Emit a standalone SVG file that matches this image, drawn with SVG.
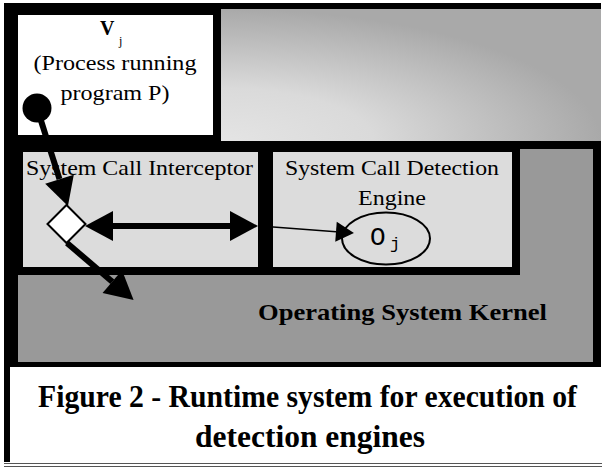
<svg xmlns="http://www.w3.org/2000/svg" width="602" height="469" viewBox="0 0 602 469">
<style>
.serif{font-family:"Liberation Serif","Times New Roman",serif;fill:#000}
.b{font-weight:bold}
.mono{font-family:"Liberation Mono","Courier New",monospace;fill:#000}
.light{fill:#dcdcdc}
.conn{stroke:#000;fill:none}
</style>
<defs>
<radialGradient id="sky" cx="0" cy="1" r="1" fx="0" fy="1">
<stop offset="0" stop-color="#e4e4e4"/>
<stop offset="0.4" stop-color="#dadada"/>
<stop offset="1" stop-color="#a9a9a9"/>
</radialGradient>
<marker id="big" markerUnits="userSpaceOnUse" markerWidth="30" markerHeight="32" refX="0" refY="15" orient="auto-start-reverse" overflow="visible">
<path d="M0,0 L28,15 L0,30 z" fill="#000"/>
</marker>
<marker id="small" markerUnits="userSpaceOnUse" markerWidth="20" markerHeight="22" refX="0" refY="10" orient="auto" overflow="visible">
<path d="M0,0 L18,10 L0,20 z" fill="#000"/>
</marker>
<marker id="dot" markerUnits="userSpaceOnUse" markerWidth="32" markerHeight="32" refX="0" refY="0" overflow="visible">
<circle cx="0" cy="0" r="14.5" fill="#000"/>
</marker>
</defs>
<rect x="0" y="0" width="602" height="469" fill="#fff"/>
<!-- frame -->
<rect x="4" y="3" width="597" height="364" fill="#000"/>
<g id="caption">
<rect x="4" y="367" width="6" height="95" fill="#000"/>
<rect x="10" y="367" width="592" height="95" fill="#fff"/>
<line x1="4" y1="463.5" x2="602" y2="463.5" stroke="#555" stroke-width="1"/>
<line x1="4" y1="466.5" x2="602" y2="466.5" stroke="#555" stroke-width="1"/>
<text class="serif b" x="38" y="407" font-size="31" textLength="539" lengthAdjust="spacingAndGlyphs">Figure 2 - Runtime system for execution of</text>
<text class="serif b" x="195" y="447" font-size="31" textLength="230" lengthAdjust="spacingAndGlyphs">detection engines</text>
</g>
<g id="background">
<rect x="221" y="9" width="380" height="132" fill="url(#sky)"/>
</g>
<g id="kernel">
<rect x="18" y="149" width="575" height="213" fill="#999"/>
<rect x="4" y="141" width="516" height="134" fill="#000"/>
<text class="serif b" x="258" y="320" font-size="24" textLength="289" lengthAdjust="spacingAndGlyphs">Operating System Kernel</text>
</g>
<g id="process">
<rect x="18" y="15" width="195" height="120" fill="#fff"/>
<text class="serif b" x="100" y="35" font-size="20">V</text>
<text class="serif" x="119" y="45" font-size="12">j</text>
<text class="serif" x="115" y="70" font-size="22" text-anchor="middle" textLength="163" lengthAdjust="spacingAndGlyphs">(Process running</text>
<text class="serif" x="115" y="100" font-size="22" text-anchor="middle" textLength="109" lengthAdjust="spacingAndGlyphs">program P)</text>
</g>
<g id="interceptor">
<rect class="light" x="23" y="152" width="235" height="115"/>
<text class="serif" x="26" y="175" font-size="21" textLength="227" lengthAdjust="spacingAndGlyphs">System Call Interceptor</text>
</g>
<g id="engine">
<rect class="light" x="273" y="152" width="239" height="115"/>
<text class="serif" x="285" y="175" font-size="21" textLength="214" lengthAdjust="spacingAndGlyphs">System Call Detection</text>
<text class="serif" x="358" y="205" font-size="21" textLength="68" lengthAdjust="spacingAndGlyphs">Engine</text>
</g>
<g id="oj">
<ellipse cx="386" cy="238.5" rx="44" ry="26" fill="#dcdcdc" stroke="#000" stroke-width="2"/>
<text class="mono" x="370" y="245" font-size="26">O</text>
<text class="mono" x="390" y="249" font-size="17">j</text>
</g>
<g id="connectors">
<line class="conn" x1="37" y1="108" x2="59.5" y2="179.2" stroke-width="6" marker-start="url(#dot)" marker-end="url(#big)"/>
<line class="conn" x1="113" y1="226" x2="230" y2="226" stroke-width="6" marker-start="url(#big)" marker-end="url(#big)"/>
<line class="conn" x1="260" y1="226" x2="336" y2="231.7" stroke-width="1.5" marker-end="url(#small)"/>
<line class="conn" x1="67" y1="243" x2="112.3" y2="281.7" stroke-width="6" marker-end="url(#big)"/>
</g>
<g id="diamond">
<polygon points="66.5,205 85.5,224 66.5,243 47.5,224" fill="#fff" stroke="#000" stroke-width="2"/>
</g>
</svg>
